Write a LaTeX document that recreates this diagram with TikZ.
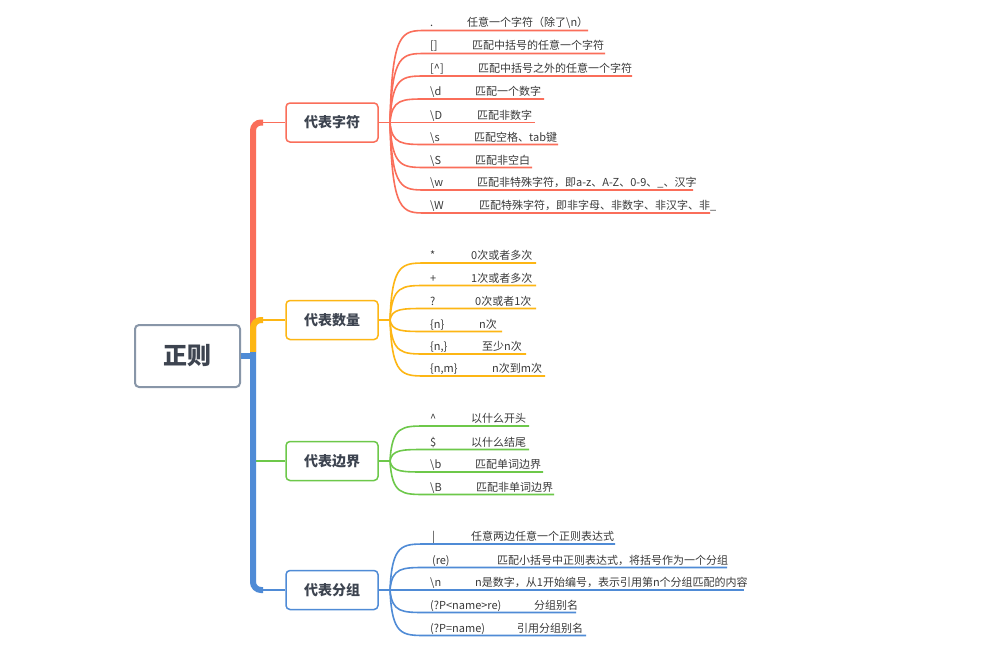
\documentclass[tikz,border=0pt]{standalone}
\usepackage{fontspec}
\setmainfont{Noto Sans CJK SC}
\usetikzlibrary{calc}
\definecolor{cred}{HTML}{FA6E5A}
\definecolor{cyel}{HTML}{FDB614}
\definecolor{cgrn}{HTML}{6DC84A}
\definecolor{cblu}{HTML}{4F8BD6}
\definecolor{cgray}{HTML}{8896A8}
\definecolor{ctxt}{HTML}{3D4450}
\definecolor{cleaf}{HTML}{3A3A3A}
\tikzset{
  branchbox/.style={draw,line width=1.5pt,rounded corners=4pt,fill=white,minimum width=92pt,minimum height=39pt,inner sep=0pt,text=ctxt,font=\fontsize{14}{16}\selectfont\bfseries},
  rootbox/.style={draw=cgray,line width=2pt,rounded corners=4pt,fill=white,minimum width=105pt,minimum height=62pt,inner sep=0pt,text=ctxt,font=\fontsize{24}{28}\selectfont\bfseries},
  leaftext/.style={inner sep=0pt,anchor=base west,text=cleaf,font=\fontsize{11}{13}\selectfont},
  trunk/.style={line width=6pt,line cap=butt,rounded corners=8pt},
  thinline/.style={line width=1.8pt},
  leafline/.style={line width=1.6pt},
}
\newcommand\myleaf[8]{%
  \node[leaftext] (#1k) at (430,#4-3.5) {#6};
  \node[leaftext] (#1d) at (#7,#4-3.5) {#8};
  \coordinate (#1s) at (426,#4);
  \coordinate (#1e) at (#5,#4);
  \draw[leafline,#2] (#3) .. controls (392,#4) and (402,#4) .. (#1s) -- (#1e);
}
\begin{document}
\begin{tikzpicture}[x=1pt,y=-1pt]
\useasboundingbox (0,0) rectangle (982,661);
\fill[white] (0,0) rectangle (982,661);
% root and branches
\node[rootbox] (root) at (187.5,356) {正则};
\node[branchbox,draw=cred] (b1) at (332,122.5) {代表字符};
\node[branchbox,draw=cyel] (b2) at (332,320) {代表数量};
\node[branchbox,draw=cgrn] (b3) at (332,461) {代表边界};
\node[branchbox,draw=cblu] (b4) at (332,590) {代表分组};
\coordinate (j) at (253,352);
\coordinate (jr) at (256,356);
\coordinate (c1) at (263,122.5);
\coordinate (c2) at (263,320);
\coordinate (c3) at (256,461);
\coordinate (c4) at (263,590);
% trunk
\draw[trunk,cred] (j) -- (j |- c1) -- (c1);
\draw[thinline,cred] (c1) -- (b1.west);
\draw[trunk,cyel] (j) -- (j |- c2) -- (c2);
\draw[thinline,cyel] (c2) -- (b2.west);
\draw[thinline,cgrn] (c3) -- (b3.west);
\draw[trunk,cblu] (j) -- (j |- c4) -- (c4);
\draw[line width=6pt,cblu] (root.east |- jr) -- (jr);
\draw[thinline,cblu] (c4) -- (b4.west);
% hubs
\coordinate (h1) at (390,122.5);
\coordinate (h2) at (390,320);
\coordinate (h3) at (390,461);
\coordinate (h4) at (390,590);
\draw[leafline,cred] (b1.east) -- (h1);
\draw[leafline,cyel] (b2.east) -- (h2);
\draw[leafline,cgrn] (b3.east) -- (h3);
\draw[leafline,cblu] (b4.east) -- (h4);
% red leaves
\myleaf{ra}{cred}{h1}{30.5}{588}{.}{467}{任意一个字符（除了\textbackslash n）}
\myleaf{rb}{cred}{h1}{53.5}{605}{[]}{472}{匹配中括号的任意一个字符}
\myleaf{rc}{cred}{h1}{76}{632}{[\textasciicircum]}{478}{匹配中括号之外的任意一个字符}
\myleaf{rd}{cred}{h1}{99}{544}{\textbackslash d}{475}{匹配一个数字}
\myleaf{re}{cred}{h1}{122.5}{535}{\textbackslash D}{477}{匹配非数字}
\myleaf{rf}{cred}{h1}{144.5}{558}{\textbackslash s}{474}{匹配空格、tab键}
\myleaf{rg}{cred}{h1}{167.5}{532}{\textbackslash S}{475}{匹配非空白}
\myleaf{rh}{cred}{h1}{190}{693}{\textbackslash w}{477}{匹配非特殊字符，即a-z、A-Z、0-9、\_、汉字}
\myleaf{ri}{cred}{h1}{213}{710}{\textbackslash W}{479}{匹配特殊字符，即非字母、非数字、非汉字、非\_}
% yellow leaves
\myleaf{ya}{cyel}{h2}{263}{536}{*}{471}{0次或者多次}
\myleaf{yb}{cyel}{h2}{285.5}{536}{+}{471}{1次或者多次}
\myleaf{yc}{cyel}{h2}{308.5}{536}{?}{475}{0次或者1次}
\myleaf{yd}{cyel}{h2}{331.5}{502}{\{n\}}{479}{n次}
\myleaf{ye}{cyel}{h2}{354}{526}{\{n,\}}{482}{至少n次}
\myleaf{yf}{cyel}{h2}{376}{545}{\{n,m\}}{492}{n次到m次}
% green leaves
\myleaf{ga}{cgrn}{h3}{426}{529}{\textasciicircum}{471}{以什么开头}
\myleaf{gb}{cgrn}{h3}{449.5}{529}{\$}{471}{以什么结尾}
\myleaf{gc}{cgrn}{h3}{472}{543}{\textbackslash b}{475}{匹配单词边界}
\myleaf{gd}{cgrn}{h3}{494.5}{554}{\textbackslash B}{476}{匹配非单词边界}
% blue leaves
\myleaf{la}{cblu}{h4}{544}{615}{\,|}{471}{任意两边任意一个正则表达式}
\myleaf{lb}{cblu}{h4}{567.5}{727}{\,(re)}{497}{匹配小括号中正则表达式，将括号作为一个分组}
\myleaf{lc}{cblu}{h4}{590}{744}{\textbackslash n}{475}{n是数字，从1开始编号，表示引用第n个分组匹配的内容}
\myleaf{ld}{cblu}{h4}{612.5}{576}{(?P<name>re)}{534}{分组别名}
\myleaf{le}{cblu}{h4}{635.5}{586}{(?P=name)}{517}{引用分组别名}
\end{tikzpicture}
\end{document}
